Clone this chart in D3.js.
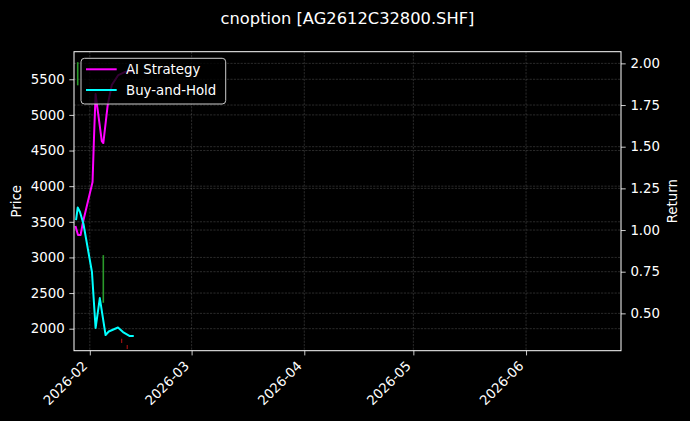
<!DOCTYPE html>
<html>
<head>
<meta charset="utf-8">
<script src="https://cdn.jsdelivr.net/npm/d3@7"></script>
<style>
  html, body { margin: 0; padding: 0; background: #000; }
  svg { display: block; }
  text { font-family: "DejaVu Sans", sans-serif; fill: #fff; }
</style>
</head>
<body>
<svg id="chart" width="690" height="421"></svg>
<script>
// ---------- data ----------
const title = "cnoption [AG2612C32800.SHF]";

const strategyDates = ["2026-01-28T01:00","2026-01-28T18:00","2026-01-29T11:00","2026-01-30T03:00",
  "2026-02-01T18:00","2026-02-02T03:00","2026-02-02T14:00","2026-02-04T07:00","2026-02-04T17:00",
  "2026-02-05T22:00","2026-02-07T01:00","2026-02-08T20:00","2026-02-10T14:00","2026-02-13T02:00"];
const strategyReturn = [1.024, 0.970, 0.970, 1.048, 1.288, 1.540, 1.816, 1.534, 1.522,
  1.750, 1.870, 1.930, 1.948, 1.954];

const holdDates = ["2026-01-28T05:00","2026-01-28T16:00","2026-01-29T07:00","2026-01-30T06:00",
  "2026-02-01T14:00","2026-02-02T14:00","2026-02-03T18:00","2026-02-05T08:00","2026-02-06T05:00",
  "2026-02-08T18:00","2026-02-10T03:00","2026-02-12T00:00","2026-02-13T02:00"];
const holdReturn = [1.060, 1.135, 1.108, 1.036, 0.748, 0.412, 0.592, 0.370, 0.391,
  0.415, 0.388, 0.364, 0.364];

// faint candle wicks (price axis)
const candleDates = ["2026-01-28T16:00","2026-02-04T17:00","2026-02-09T18:00","2026-02-11T07:00"];
const candleHigh = [5740, 3032, 1860, 1770];
const candleLow  = [5415, 2364, 1800, 1715];
const candleUp   = [true, true, false, false];

const priceTicks  = [2000, 2500, 3000, 3500, 4000, 4500, 5000, 5500];
const returnTicks = [0.50, 0.75, 1.00, 1.25, 1.50, 1.75, 2.00];
const monthTicks  = ["2026-02-01","2026-03-01","2026-04-01","2026-05-01","2026-06-01"];
const xDomain     = ["2026-01-27T15:30","2026-06-27T03:00"];
const priceDomain = [1691, 5887];
const returnDomain = [0.276, 2.070];

const seriesNames = ["AI Strategy", "Buy-and-Hold"];
const seriesColors = ["#ff00ff", "#00ffff"];

// ---------- layout ----------
const svg = d3.select("#chart");
const L = 74, R = 621, T = 51.7, B = 350.7;
const parse = s => new Date(s);

const x = d3.scaleTime().domain(xDomain.map(parse)).range([L, R]);
const yP = d3.scaleLinear().domain(priceDomain).range([B, T]);
const yR = d3.scaleLinear().domain(returnDomain).range([B, T]);

svg.append("rect").attr("width", 690).attr("height", 421).attr("fill", "#000");

// grid
const grid = svg.append("g").attr("stroke", "#fff").attr("stroke-opacity", 0.28)
  .attr("stroke-width", 0.6).attr("stroke-dasharray", "2.2,1.2");
monthTicks.forEach(d => {
  const px = x(parse(d));
  grid.append("line").attr("x1", px).attr("x2", px).attr("y1", T).attr("y2", B);
});
priceTicks.forEach(v => {
  grid.append("line").attr("x1", L).attr("x2", R).attr("y1", yP(v)).attr("y2", yP(v));
});
returnTicks.forEach(v => {
  grid.append("line").attr("x1", L).attr("x2", R).attr("y1", yR(v)).attr("y2", yR(v));
});

// candles
const cg = svg.append("g");
candleDates.forEach((d, i) => {
  cg.append("line")
    .attr("x1", x(parse(d))).attr("x2", x(parse(d)))
    .attr("y1", yP(candleHigh[i])).attr("y2", yP(candleLow[i]))
    .attr("stroke", candleUp[i] ? "#2a9a2a" : "#9a1010")
    .attr("stroke-width", candleUp[i] ? 1.6 : 1.2);
});

// lines
const line = d3.line().x(d => x(d[0])).y(d => yR(d[1]));
const series = [
  strategyDates.map((d, i) => [parse(d), strategyReturn[i]]),
  holdDates.map((d, i) => [parse(d), holdReturn[i]])
];
const clip = svg.append("clipPath").attr("id", "clip").append("rect")
  .attr("x", L).attr("y", T).attr("width", R - L).attr("height", B - T);
series.forEach((s, i) => {
  svg.append("path").datum(s).attr("d", line)
    .attr("fill", "none").attr("stroke", seriesColors[i])
    .attr("stroke-width", 2).attr("stroke-linejoin", "round").attr("stroke-linecap", "butt")
    .attr("clip-path", "url(#clip)");
});

// spines
svg.append("rect").attr("x", L).attr("y", T).attr("width", R - L).attr("height", B - T)
  .attr("fill", "none").attr("stroke", "#fff").attr("stroke-width", 1);

// axes
const fs = 13.33;
const xAxis = svg.append("g").attr("transform", `translate(0,${B})`)
  .call(d3.axisBottom(x).tickValues(monthTicks.map(parse)).tickFormat(d3.timeFormat("%Y-%m"))
    .tickSizeInner(4.7).tickSizeOuter(0).tickPadding(4.7));
xAxis.select(".domain").remove();
xAxis.selectAll(".tick line").attr("stroke", "#fff").attr("stroke-width", 0.8);
xAxis.selectAll(".tick text")
  .attr("font-size", fs).attr("font-family", "DejaVu Sans").attr("fill", "#fff")
  .attr("text-anchor", "end").attr("dy", null).attr("y", null)
  .attr("transform", "translate(-2,16) rotate(-45)");

const yAxisL = svg.append("g").attr("transform", `translate(${L},0)`)
  .call(d3.axisLeft(yP).tickValues(priceTicks).tickFormat(d3.format("d"))
    .tickSizeInner(4.7).tickSizeOuter(0).tickPadding(4.7));
yAxisL.select(".domain").remove();
yAxisL.selectAll(".tick line").attr("stroke", "#fff").attr("stroke-width", 0.8);
yAxisL.selectAll(".tick text").attr("font-size", fs).attr("font-family", "DejaVu Sans").attr("fill", "#fff");

const yAxisR = svg.append("g").attr("transform", `translate(${R},0)`)
  .call(d3.axisRight(yR).tickValues(returnTicks).tickFormat(d3.format(".2f"))
    .tickSizeInner(4.7).tickSizeOuter(0).tickPadding(4.7));
yAxisR.select(".domain").remove();
yAxisR.selectAll(".tick line").attr("stroke", "#fff").attr("stroke-width", 0.8);
yAxisR.selectAll(".tick text").attr("font-size", fs).attr("font-family", "DejaVu Sans").attr("fill", "#fff");

// labels
const cy = (T + B) / 2;
svg.append("text").attr("transform", `translate(17,${cy}) rotate(-90)`)
  .attr("text-anchor", "middle").attr("dominant-baseline", "middle")
  .attr("font-size", fs).text("Price");
svg.append("text").attr("transform", `translate(673,${cy}) rotate(-90)`)
  .attr("text-anchor", "middle").attr("dominant-baseline", "middle")
  .attr("font-size", fs).text("Return");
svg.append("text").attr("x", (L + R) / 2).attr("y", 24)
  .attr("text-anchor", "middle").attr("font-size", 16.3).text(title);

// legend
const lg = svg.append("g");
lg.append("rect").attr("x", 81).attr("y", 58.3).attr("width", 144.7).attr("height", 45.7)
  .attr("rx", 3.5).attr("fill", "#000").attr("fill-opacity", 0.8)
  .attr("stroke", "#ccc").attr("stroke-width", 1);
seriesNames.forEach((n, i) => {
  const yy = 69.3 + i * 20.7;
  lg.append("line").attr("x1", 86).attr("x2", 116.7).attr("y1", yy).attr("y2", yy)
    .attr("stroke", seriesColors[i]).attr("stroke-width", 2);
  lg.append("text").attr("x", 126).attr("y", yy).attr("dominant-baseline", "central")
    .attr("font-size", fs).text(n);
});
</script>
</body>
</html>
